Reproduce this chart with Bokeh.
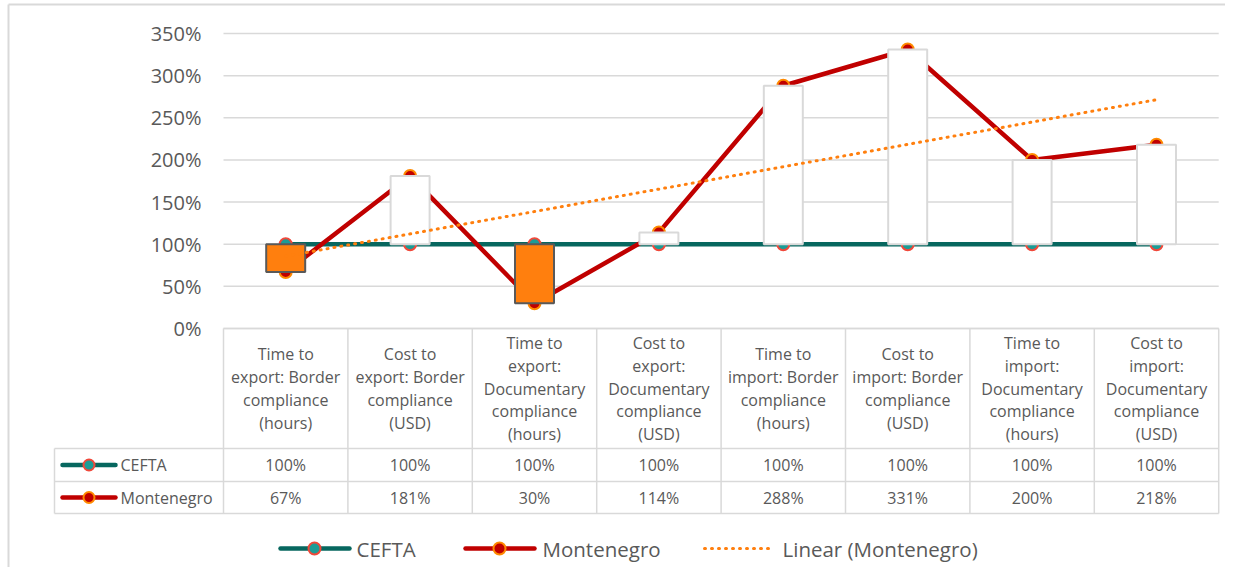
import numpy as np
from bokeh.plotting import figure
from bokeh.models import Range1d
from bokeh.core.properties import value
from bokeh.embed import file_html
from bokeh.resources import INLINE

# ---------------- data ----------------
categories = [
    "Time to export: Border compliance (hours)",
    "Cost to export: Border compliance (USD)",
    "Time to export: Documentary compliance (hours)",
    "Cost to export: Documentary compliance (USD)",
    "Time to import: Border compliance (hours)",
    "Cost to import: Border compliance (USD)",
    "Time to import: Documentary compliance (hours)",
    "Cost to import: Documentary compliance (USD)",
]
category_lines = [
    ["Time to", "export: Border", "compliance", "(hours)"],
    ["Cost to", "export: Border", "compliance", "(USD)"],
    ["Time to", "export:", "Documentary", "compliance", "(hours)"],
    ["Cost to", "export:", "Documentary", "compliance", "(USD)"],
    ["Time to", "import: Border", "compliance", "(hours)"],
    ["Cost to", "import: Border", "compliance", "(USD)"],
    ["Time to", "import:", "Documentary", "compliance", "(hours)"],
    ["Cost to", "import:", "Documentary", "compliance", "(USD)"],
]
cefta = [100, 100, 100, 100, 100, 100, 100, 100]
montenegro = [67, 181, 30, 114, 288, 331, 200, 218]
y_ticks = [0, 50, 100, 150, 200, 250, 300, 350]
y_tick_labels = ["0%", "50%", "100%", "150%", "200%", "250%", "300%", "350%"]
series_names = ["CEFTA", "Montenegro"]
trend_name = "Linear (Montenegro)"

# ---------------- styles ----------------
FONT = value("Open Sans")
TXT = "#595959"
GRID = "#d9d9d9"
CEFTA_LINE = "#07675f"
CEFTA_FILL = "#1c9c96"
CEFTA_EDGE = "#f0483a"
MNE_LINE = "#c00000"
MNE_EDGE = "#ff8a00"
TREND = "#ff7f0e"

W, H = 1225, 567
# image-pixel to data helpers
CX0, CW = 285.2, 124.4     # first category centre, column width (px)
Y0, PPU = 328.0, 295.0 / 350.0  # 0% baseline (px), px per percent


def X(px):
    return (px - CX0) / CW


def Y(py):
    return (Y0 - py) / PPU


p = figure(width=W, height=H, output_backend="svg", toolbar_location=None,
           x_range=Range1d(X(0), X(W)), y_range=Range1d(Y(H), Y(0)),
           x_axis_location=None, y_axis_location=None, min_border=0)
p.outline_line_color = None
p.background_fill_color = "white"
p.border_fill_color = "white"
p.xgrid.visible = False
p.ygrid.visible = False

n = len(categories)
idx = np.arange(n)
xl, xr = -0.5, n - 0.5

# outer border (top & left visible)
p.segment(x0=[X(8), X(8)], y0=[Y(4), Y(4)], x1=[X(W), X(8)], y1=[Y(4), Y(H)],
          line_color=GRID, line_width=2)

# gridlines
p.segment(x0=[xl] * len(y_ticks), x1=[xr] * len(y_ticks), y0=y_ticks, y1=y_ticks,
          line_color=GRID, line_width=1.5)
p.text(x=[X(201)] * len(y_ticks), y=y_ticks, text=y_tick_labels, text_font=FONT,
       text_font_size=value("20px"), text_color=TXT, text_align="right",
       text_baseline="middle")

# series lines + markers
p.line(idx, cefta, line_color=CEFTA_LINE, line_width=4.5)
p.line(idx, montenegro, line_color=MNE_LINE, line_width=4.5)
p.scatter(idx, cefta, size=12, fill_color=CEFTA_FILL, line_color=CEFTA_EDGE, line_width=2)
p.scatter(idx, montenegro, size=12, fill_color=MNE_LINE, line_color=MNE_EDGE, line_width=2)

# up / down bars
c = np.array(cefta)
m = np.array(montenegro)
up = m >= c
bw = 39 / CW
p.vbar(x=idx[up], width=bw, top=m[up], bottom=c[up], fill_color="white",
       line_color=GRID, line_width=2)
p.vbar(x=idx[~up], width=bw, top=c[~up], bottom=m[~up], fill_color=TREND,
       line_color="#595959", line_width=2)

# linear trendline
slope, icpt = np.polyfit(idx, m, 1)
p.line([idx[0], idx[-1]], [icpt + slope * idx[0], icpt + slope * idx[-1]],
       line_color=TREND, line_width=3, line_dash="1 6", line_cap="round")

# ---------------- data table ----------------
t_top, t_head, t_r1, t_bot = 328, 448, 481, 513
t_left = 54
hy = [Y(t_top), Y(t_head), Y(t_r1), Y(t_bot)]
p.segment(x0=[xl, X(t_left), X(t_left), X(t_left)], x1=[xr] * 4, y0=hy, y1=hy,
          line_color=GRID, line_width=1.5)
vx = [i - 0.5 for i in range(n + 1)]
p.segment(x0=vx, x1=vx, y0=[Y(t_top)] * len(vx), y1=[Y(t_bot)] * len(vx),
          line_color=GRID, line_width=1.5)
p.segment(x0=[X(t_left)], x1=[X(t_left)], y0=[Y(t_head)], y1=[Y(t_bot)],
          line_color=GRID, line_width=1.5)

# header texts
hx, hy_, ht = [], [], []
mid = (t_top + t_head) / 2
lh = 22.8
for i, lines in enumerate(category_lines):
    k = len(lines)
    for j, s in enumerate(lines):
        hx.append(i)
        hy_.append(Y(mid + (j - (k - 1) / 2) * lh))
        ht.append(s)
p.text(x=hx, y=hy_, text=ht, text_font=FONT, text_font_size=value("16px"),
       text_color=TXT, text_align="center", text_baseline="middle")

# values rows
r1y, r2y = (t_head + t_r1) / 2, (t_r1 + t_bot) / 2
p.text(x=list(idx), y=[Y(r1y)] * n, text=[f"{v}%" for v in cefta], text_font=FONT,
       text_font_size=value("16px"), text_color=TXT, text_align="center",
       text_baseline="middle")
p.text(x=list(idx), y=[Y(r2y)] * n, text=[f"{v}%" for v in montenegro], text_font=FONT,
       text_font_size=value("16px"), text_color=TXT, text_align="center",
       text_baseline="middle")

# row legend keys
for ry, lc, fc, ec in [(r1y, CEFTA_LINE, CEFTA_FILL, CEFTA_EDGE),
                       (r2y, MNE_LINE, MNE_LINE, MNE_EDGE)]:
    p.line([X(62), X(115)], [Y(ry), Y(ry)], line_color=lc, line_width=4.5, line_cap="round")
    p.scatter([X(88.5)], [Y(ry)], size=11, fill_color=fc, line_color=ec, line_width=2)
p.text(x=[X(120)] * 2, y=[Y(r1y), Y(r2y)], text=series_names, text_font=FONT,
       text_font_size=value("16px"), text_color=TXT, text_align="left",
       text_baseline="middle")

# ---------------- bottom legend ----------------
ly = 548
for x0, x1, xm, lc, fc, ec in [(280, 349, 314, CEFTA_LINE, CEFTA_FILL, CEFTA_EDGE),
                               (465, 534, 499, MNE_LINE, MNE_LINE, MNE_EDGE)]:
    p.line([X(x0), X(x1)], [Y(ly), Y(ly)], line_color=lc, line_width=4.5, line_cap="round")
    p.scatter([X(xm)], [Y(ly)], size=12, fill_color=fc, line_color=ec, line_width=2)
p.line([X(704), X(768)], [Y(ly), Y(ly)], line_color=TREND, line_width=3,
       line_dash="1 6", line_cap="round")
p.text(x=[X(356), X(542), X(782)], y=[Y(ly)] * 3, text=series_names + [trend_name],
       text_font=FONT, text_font_size=value("20.5px"), text_color=TXT,
       text_align="left", text_baseline="middle")

open("out.html", "w").write(file_html(p, INLINE))
